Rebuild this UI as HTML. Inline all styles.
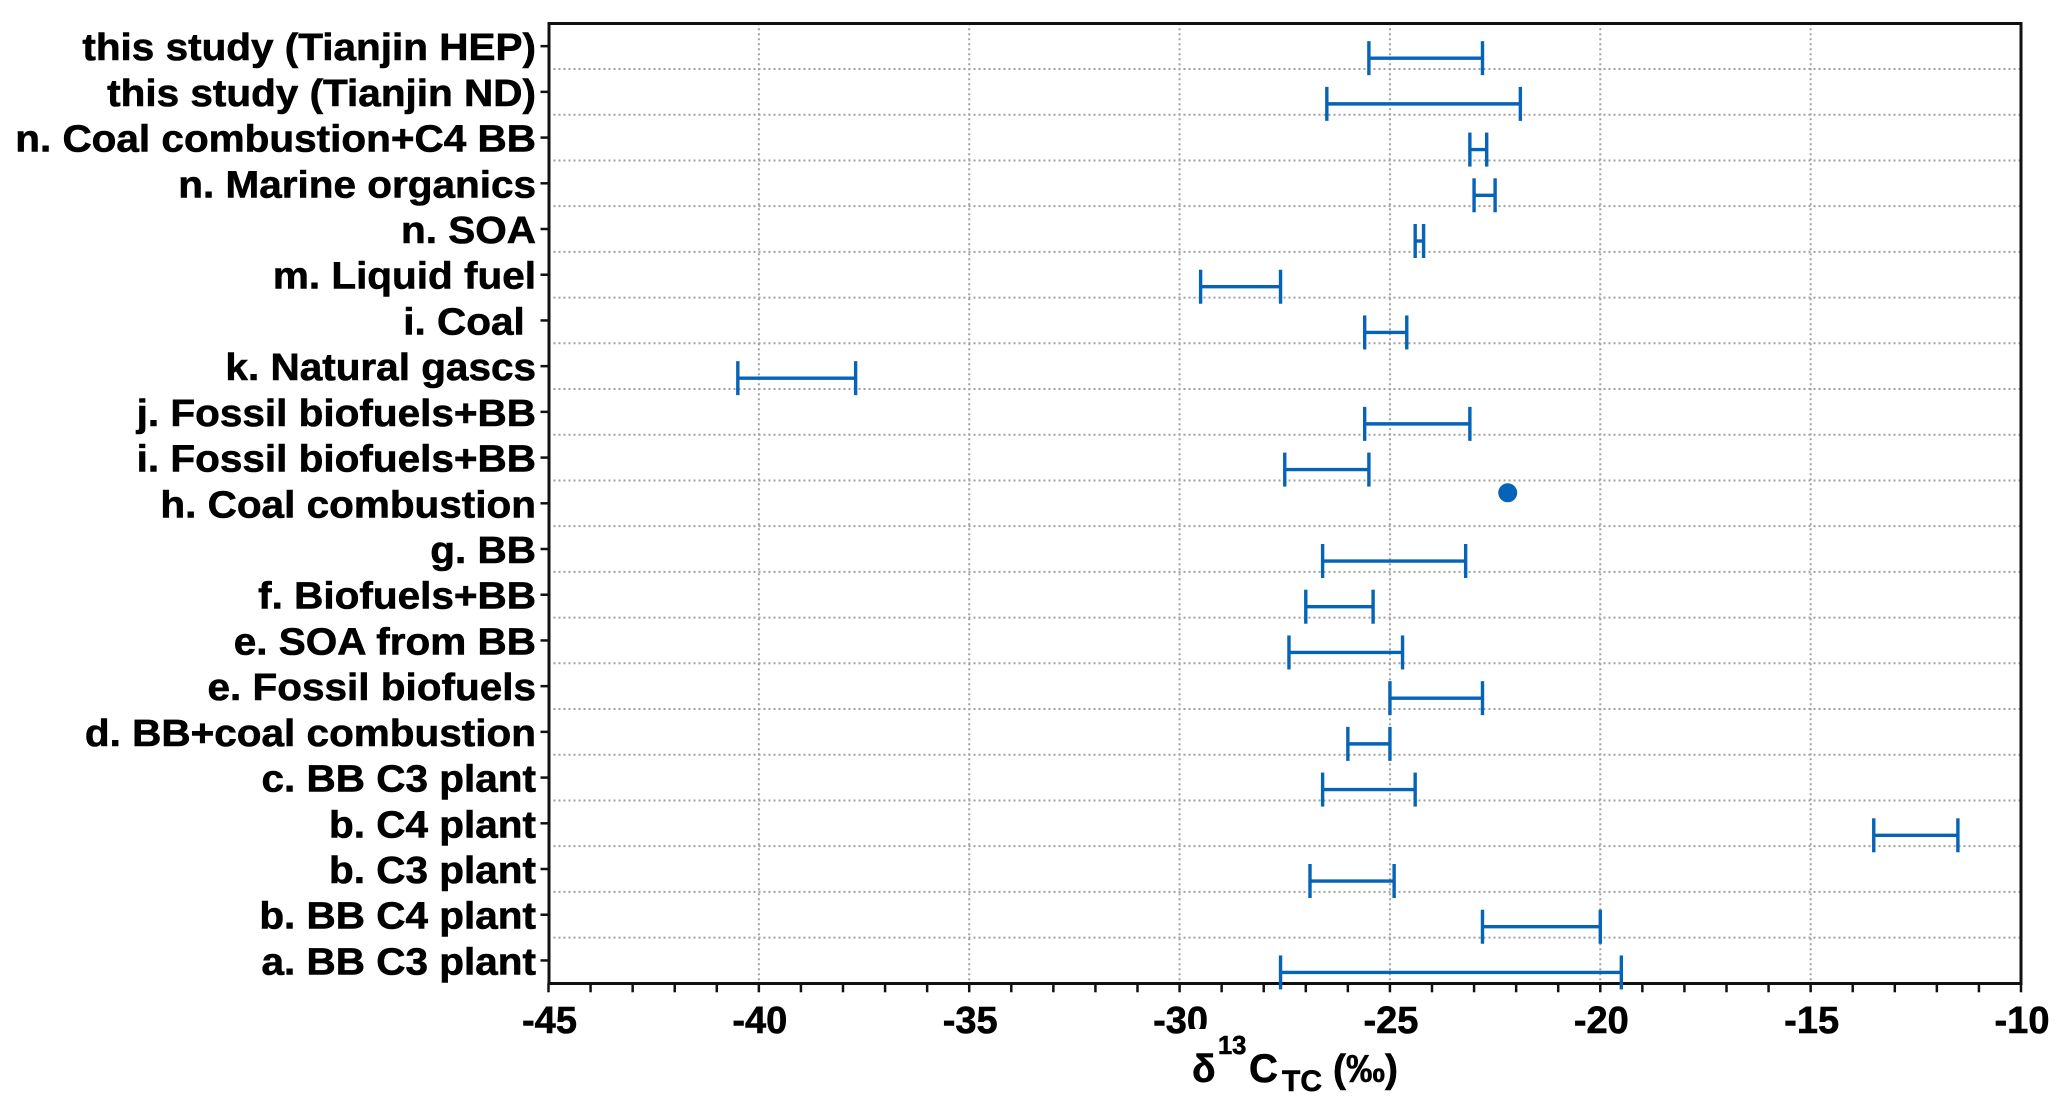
<!DOCTYPE html>
<html>
<head>
<meta charset="utf-8">
<title>δ13C TC chart</title>
<style>
html,body{margin:0;padding:0;background:#fff;width:2067px;height:1117px;overflow:hidden}
svg{display:block}
text{font-family:"Liberation Sans",sans-serif;font-weight:bold;fill:#000;stroke:#000;stroke-width:0.6px;white-space:pre}
</style>
</head>
<body>
<svg id="chart" xmlns="http://www.w3.org/2000/svg" width="2067" height="1117" viewBox="0 0 2067 1117">
<rect x="0" y="0" width="2067" height="1117" fill="#ffffff"/>
<g id="grid"></g>
<g id="ticks"></g>
<g id="ylabels"></g>
<g id="xlabels"></g>
<rect x="1187" y="1029" width="24" height="7" fill="#ffffff"/>
<rect x="549" y="23.5" width="1472" height="960" fill="none" stroke="#111" stroke-width="3"/>
<g id="marks"></g>
<g>
<text x="1192" y="1082" font-size="39">δ</text>
<text x="1218" y="1054" font-size="25.5">13</text>
<text x="1249" y="1082" font-size="40">C</text>
<text x="1282" y="1091" font-size="30">TC</text>
<text x="1333" y="1082" font-size="39">(‰)</text>
</g>
</svg>
<script>
const categories = ["this study (Tianjin HEP)","this study (Tianjin ND)","n. Coal combustion+C4 BB","n. Marine organics","n. SOA","m. Liquid fuel","i. Coal ","k. Natural gascs","j. Fossil biofuels+BB","i. Fossil biofuels+BB","h. Coal combustion","g. BB","f. Biofuels+BB","e. SOA from BB","e. Fossil biofuels","d. BB+coal combustion","c. BB C3 plant","b. C4 plant","b. C3 plant","b. BB C4 plant","a. BB C3 plant"];
const rangeLow  = [-25.5,-26.5,-23.1,-23.0,-24.4,-29.5,-25.6,-40.5,-25.6,-27.5,null,-26.6,-27.0,-27.4,-25.0,-26.0,-26.6,-13.5,-26.9,-22.8,-27.6];
const rangeHigh = [-22.8,-21.9,-22.7,-22.5,-24.2,-27.6,-24.6,-37.7,-23.1,-25.5,null,-23.2,-25.4,-24.7,-22.8,-25.0,-24.4,-11.5,-24.9,-20.0,-19.5];
const pointCategories = [10];
const pointValues = [-22.2];
const xTickValues = [-45,-40,-35,-30,-25,-20,-15,-10];
const xMinorTickValues = [-44,-43,-42,-41,-39,-38,-37,-36,-34,-33,-32,-31,-29,-28,-27,-26,-24,-23,-22,-21,-19,-18,-17,-16,-14,-13,-12,-11];

const NS = "http://www.w3.org/2000/svg";
const L = 548.5, R = 2021, T = 23.3, B = 983.3, XMIN = -45, XMAX = -10;
const BAND = (B - T) / categories.length;
function xScale(v){ return L + (v - XMIN) * (R - L) / (XMAX - XMIN); }
function yCenter(i){ return T + BAND * (i + 0.5); }
function mk(tag, attrs, parent){
  const el = document.createElementNS(NS, tag);
  for (const k in attrs) el.setAttribute(k, attrs[k]);
  parent.appendChild(el);
  return el;
}
const grid = document.getElementById("grid");
const ticks = document.getElementById("ticks");
const ylabels = document.getElementById("ylabels");
const xlabels = document.getElementById("xlabels");
const marks = document.getElementById("marks");
const BLUE = "#0563b8";

categories.forEach((c, i) => {
  const cy = yCenter(i);
  if (i < categories.length - 1) {
    const g = mk("line", {x1:L, x2:R, y1:cy + BAND/2, y2:cy + BAND/2, stroke:"#a0a0a0", "stroke-width":2, "stroke-dasharray":"2 3"}, grid);
    
    
  }
  const t = mk("line", {x1:L - 8, x2:L, y1:cy, y2:cy, stroke:"#111", "stroke-width":2.5}, ticks);
  
  
  const lab = mk("text", {transform:"translate(536," + (cy + 14) + ") scale(1.06,1)", x:0, y:0, "text-anchor":"end", "font-size":38.2}, ylabels);
  lab.textContent = c;
  
  

  if (rangeLow[i] !== null) {
    const by = cy + 12, x1 = xScale(rangeLow[i]), x2 = xScale(rangeHigh[i]);
    const bar = mk("g", {stroke:BLUE, "stroke-width":3.4, fill:"none"}, marks);
    
    
    mk("line", {x1:x1, x2:x2, y1:by, y2:by}, bar);
    mk("line", {x1:x1, x2:x1, y1:by - 17, y2:by + 17}, bar);
    mk("line", {x1:x2, x2:x2, y1:by - 17, y2:by + 17}, bar);
  }
});

pointCategories.forEach((idx, j) => {
  const p = mk("circle", {cx:xScale(pointValues[j]), cy:yCenter(idx) - 10.5, r:9.5, fill:BLUE}, marks);
  
  
});

xTickValues.forEach(v => {
  const px = xScale(v);
  if (v > XMIN && v < XMAX) {
    const g = mk("line", {x1:px, x2:px, y1:T, y2:B, stroke:"#a0a0a0", "stroke-width":2, "stroke-dasharray":"2 3"}, grid);
    
    
  }
  const t = mk("line", {x1:px, x2:px, y1:B, y2:B + 9, stroke:"#111", "stroke-width":2.5}, ticks);
  
  
  const lab = mk("text", {x:px + 1, y:1033, "text-anchor":"middle", "font-size":38}, xlabels);
  lab.textContent = String(v);
  
  
});

xMinorTickValues.forEach(v => {
  const px = xScale(v);
  const t = mk("line", {x1:px, x2:px, y1:B, y2:B + 9, stroke:"#111", "stroke-width":2.5}, ticks);
  
  
});
</script>
</body>
</html>
